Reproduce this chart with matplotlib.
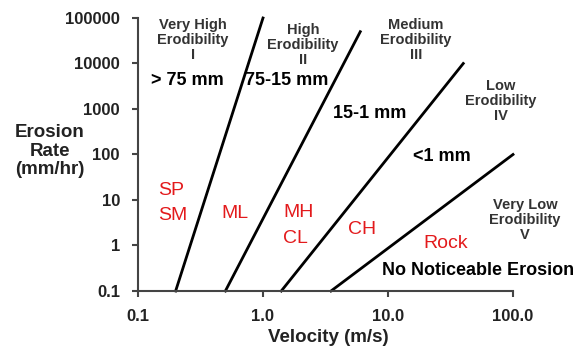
import matplotlib
matplotlib.use("Agg")
import matplotlib.pyplot as plt

plt.rcParams['font.family'] = ['Liberation Sans', 'DejaVu Sans']

# boundary lines between erodibility categories (velocity m/s, erosion rate mm/hr)
line_v_start = [0.2, 0.5, 1.4, 3.5]
line_v_end = [1.0, 6.0, 40.0, 100.0]
line_r_start = [0.1, 0.1, 0.1, 0.1]
line_r_end = [100000, 50000, 10000, 100]

x_ticks = [0.1, 1.0, 10.0, 100.0]
x_ticklabels = ["0.1", "1.0", "10.0", "100.0"]
y_ticks = [0.1, 1, 10, 100, 1000, 10000, 100000]
y_ticklabels = ["0.1", "1", "10", "100", "1000", "10000", "100000"]

# category names
cat_names = ["Very High\nErodibility\nI", "High\nErodibility\nII",
             "Medium\nErodibility\nIII", "Low\nErodibility\nIV",
             "Very Low\nErodibility\nV"]
cat_x = [0.275, 2.09, 16.7, 80, 125]
cat_y = [32800, 25500, 32800, 1490, 3.6]

# grain size ranges
size_labels = ["> 75 mm", "75-15 mm", "15-1 mm", "<1 mm"]
size_x = [0.247, 1.56, 7.18, 27]
size_y = [4320, 4320, 813, 92]

# soil types
soil_labels = ["SP", "SM", "ML", "MH", "CL", "CH", "Rock"]
soil_x = [0.145, 0.145, 0.597, 1.445, 1.445, 6.19, 29.1]
soil_y = [16.4, 4.6, 5.1, 5.2, 1.44, 2.28, 1.12]
soil_ha = ["left", "left", "center", "left", "left", "center", "center"]

fig = plt.figure(figsize=(5.76, 3.47), dpi=100)
ax = fig.add_axes([138/576, 1-291/347, 375/576, 273/347])
ax.set_xscale("log")
ax.set_yscale("log")
ax.set_xlim(0.1, 100)
ax.set_ylim(0.1, 100000)

for i in range(len(line_v_start)):
    ax.plot([line_v_start[i], line_v_end[i]], [line_r_start[i], line_r_end[i]],
            color="black", lw=2, clip_on=False)

for s in ["top", "right"]:
    ax.spines[s].set_visible(False)
for s in ["left", "bottom"]:
    ax.spines[s].set_color("#444444")
    ax.spines[s].set_linewidth(1.5)

ax.set_xticks(x_ticks)
ax.set_xticklabels(x_ticklabels)
ax.set_yticks(y_ticks)
ax.set_yticklabels(y_ticklabels)
ax.minorticks_off()
ax.tick_params(axis="both", direction="out", length=4, width=1.5, color="#444444",
               labelsize=12, labelcolor="#222222")
ax.tick_params(axis="x", pad=9)
ax.tick_params(axis="y", pad=9)
for t in ax.get_xticklabels() + ax.get_yticklabels():
    t.set_fontweight("bold")

for name, x, y in zip(cat_names, cat_x, cat_y):
    ax.text(x, y, name, ha="center", va="center", fontsize=10.5, fontweight="bold",
            color="#333333", linespacing=1.1, clip_on=False)

for name, x, y in zip(size_labels, size_x, size_y):
    ax.text(x, y, name, ha="center", va="center", fontsize=13, fontweight="bold",
            color="black")

for name, x, y, ha in zip(soil_labels, soil_x, soil_y, soil_ha):
    ax.text(x, y, name, ha=ha, va="center", fontsize=14, color="#e31a1c")

ax.text(8.95, 0.286, "No Noticeable Erosion", ha="left", va="center",
        fontsize=13, fontweight="bold", color="black", clip_on=False)

fig.text(50/576, 1-151/347, "Erosion\nRate\n(mm/hr)", ha="center", va="center",
         fontsize=13.5, fontweight="bold", color="#222222", linespacing=1.15)
fig.text(328/576, 1-338/347, "Velocity (m/s)", ha="center", va="center",
         fontsize=13.5, fontweight="bold", color="#222222")

fig.savefig("out.png", dpi=100)
